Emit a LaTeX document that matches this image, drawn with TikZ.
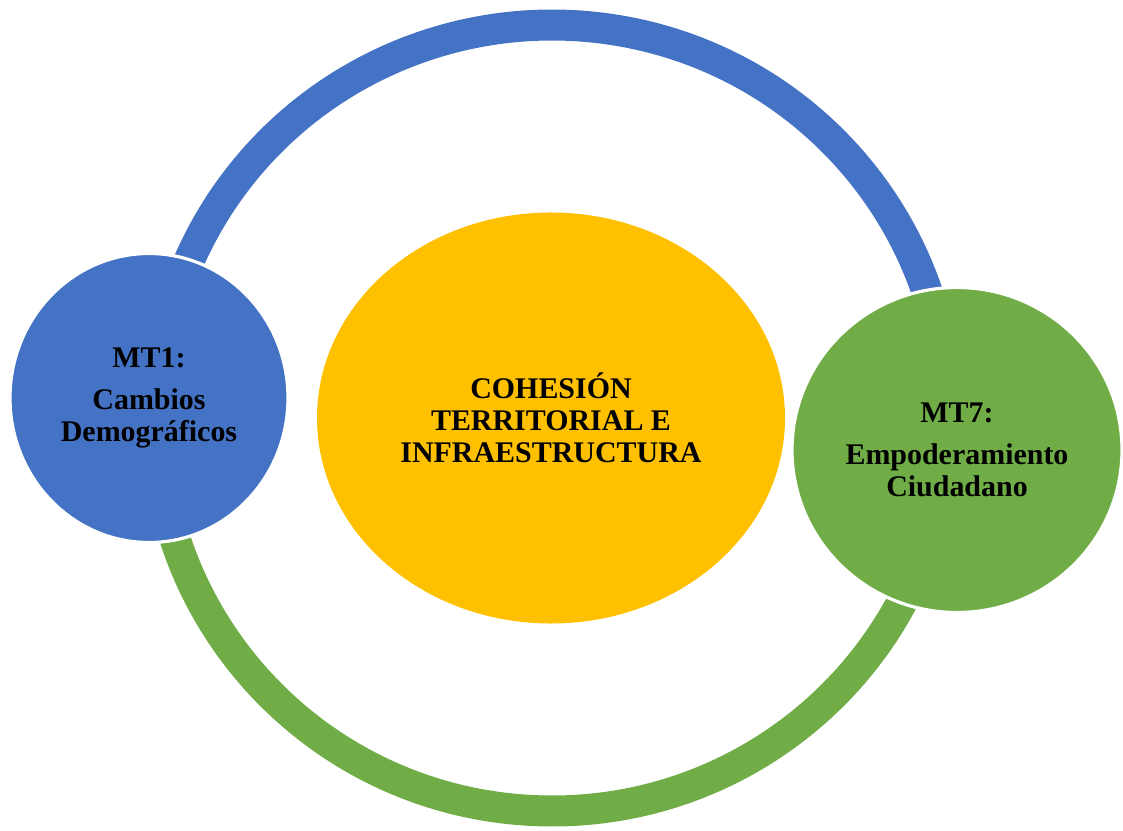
\documentclass[tikz,border=0pt]{standalone}
\usepackage{fontspec}
\setmainfont{Liberation Serif}
\usetikzlibrary{shapes.geometric}
\definecolor{mtblue}{HTML}{4472C4}
\definecolor{mtgreen}{HTML}{70AD47}
\definecolor{mtyellow}{HTML}{FFC000}
\newlength{\RingWidth}
\newlength{\GapWidth}
\setlength{\RingWidth}{7.75mm}
\setlength{\GapWidth}{0.8mm}
\tikzset{
  theme node/.style={ellipse, inner sep=0pt, draw=white, line width=\GapWidth,
    align=center, text=black, font=\fontsize{21.3pt}{22.8pt}\selectfont\bfseries},
  ring arc/.style={line width=\RingWidth},
}

\begin{document}
\begin{tikzpicture}[x=0.25mm, y=0.25mm]
  \useasboundingbox (0,0) rectangle (1123,830);
  \coordinate (ring) at (552,412);

  % outer ring, split where the two side circles sit
  \draw[ring arc, mtblue] (ring) ++(-4.55:396 and 393)
    arc[start angle=-4.55, end angle=177.1, x radius=396, y radius=393];
  \draw[ring arc, mtgreen] (ring) ++(177.1:396 and 393)
    arc[start angle=177.1, end angle=355.45, x radius=396, y radius=393];

  \node[theme node, draw=none, fill=mtyellow, minimum width=117mm, minimum height=102.75mm]
    (cohesion) at (551,412) {COHESIÓN\\TERRITORIAL E\\INFRAESTRUCTURA};

  \node[theme node, fill=mtblue, minimum width=69.5mm, minimum height=72.25mm]
    (mt1) at (149,432) {MT1:\\[2.5mm]Cambios\\Demográficos};

  \node[theme node, fill=mtgreen, minimum width=82.5mm, minimum height=81.25mm]
    (mt7) at (957,380) {MT7:\\[2.5mm]Empoderamiento\\Ciudadano};
\end{tikzpicture}
\end{document}
